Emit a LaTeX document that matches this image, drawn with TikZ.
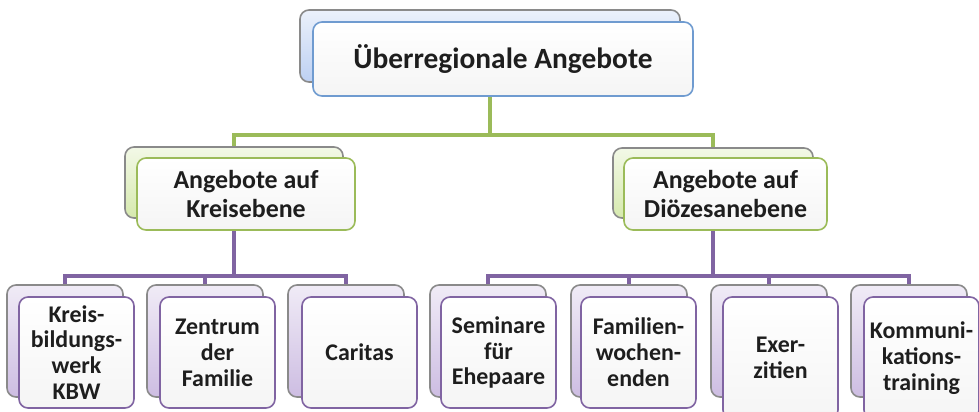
\documentclass[tikz,border=0pt]{standalone}
\usepackage{fontspec}
\setmainfont{Carlito}
\usetikzlibrary{positioning, backgrounds}
\definecolor{inkgray}{HTML}{1E1E1E}
\definecolor{rimgray}{HTML}{8A8A8A}
\definecolor{bluerim}{HTML}{6F9BD0}
\definecolor{blueback}{HTML}{BDD0F2}
\definecolor{greenrim}{HTML}{9BBB59}
\definecolor{greenback}{HTML}{D6E9AE}
\definecolor{purplerim}{HTML}{8064A2}
\definecolor{purpleback}{HTML}{CDBDE2}
\tikzset{
x=1bp, y=-1bp, % one unit per pixel, y runs downwards
box/.style={rounded corners=9bp, line width=1.6bp, inner sep=0pt, align=center, text=inkgray}, % common box look
back/.style={box, draw=rimgray}, % the box lying behind
front/.style={box, top color=white, bottom color=black!4}, % the box in front, holds the text
head/.style={font=\bfseries\fontsize{29.5}{32}\selectfont},
mid/.style={font=\bfseries\fontsize{26}{29}\selectfont},
leaf/.style={font=\bfseries\fontsize{24}{26}\selectfont, minimum width=115bp},
greenline/.style={draw=greenrim, line width=4bp},
purpleline/.style={draw=purplerim, line width=4bp},
}
\begin{document}
\begin{tikzpicture}
\useasboundingbox (0,0) rectangle (979,411);

% top level
\node[back, top color=blueback!30!white, bottom color=blueback, minimum width=380bp, minimum height=72bp] (topB) at (490,46) {};
\node[front, head, draw=bluerim, minimum width=380bp, minimum height=74bp, below right=12bp and 13bp of topB.north west] (top) {Überregionale Angebote};

% middle level
\node[back, top color=greenback!30!white, bottom color=greenback, minimum width=218bp, minimum height=71bp] (kreisB) at (234,182.5) {};
\node[front, mid, draw=greenrim, minimum width=218bp, minimum height=72bp, below right=11bp and 12bp of kreisB.north west] (kreis) {Angebote auf\\Kreisebene};
\node[back, top color=greenback!30!white, bottom color=greenback, minimum width=200bp, minimum height=70bp] (dioezB) at (713,183) {};
\node[front, mid, draw=greenrim, minimum width=203bp, minimum height=72bp, below right=10bp and 11bp of dioezB.north west] (dioez) {Angebote auf\\Diözesanebene};

% bottom level
\tikzset{leafback/.style={back, top color=purpleback!30!white, bottom color=purpleback, minimum width=116bp, minimum height=112bp}}
\tikzset{leaffront/.style={front, leaf, draw=purplerim, minimum height=111bp}}
\node[leafback] (kbwB) at (65,341) {};
\node[leaffront, below right=12bp and 12bp of kbwB.north west] (kbw) {Kreis-\\bildungs-\\werk\\KBW};
\node[leafback] (zentrumB) at (205,341) {};
\node[leaffront, below right=12bp and 13bp of zentrumB.north west] (zentrum) {Zentrum\\der\\Familie};
\node[leafback] (caritasB) at (346,341) {};
\node[leaffront, below right=12bp and 14bp of caritasB.north west] (caritas) {Caritas};
\node[leafback] (seminarB) at (488,341) {};
\node[leaffront, below right=12bp and 11bp of seminarB.north west] (seminar) {Seminare\\für\\Ehepaare};
\node[leafback] (wochenB) at (629,341) {};
\node[leaffront, below right=12bp and 10bp of wochenB.north west] (wochen) {Familien-\\wochen-\\enden};
\node[leafback] (exerB) at (769,341) {};
\node[leaffront, minimum height=122bp, below right=12bp and 12bp of exerB.north west] (exer) {Exer-\\zitien};
\node[leafback] (kommB) at (909,341) {};
\node[leaffront, minimum height=122bp, below right=12bp and 13bp of kommB.north west] (komm) {Kommuni-\\kations-\\training};

% connectors, behind the boxes
\begin{scope}[on background layer]
\draw[greenline] (topB.south) -- ++(0,52) -| (kreisB.north);
\draw[greenline] (topB.south) -- ++(0,52) -| (dioezB.north);
\foreach \leaf in {kbwB, zentrumB, caritasB}
  \draw[purpleline] (kreisB.south) -- ++(0,57) -| (\leaf.north);
\foreach \leaf in {seminarB, wochenB, exerB, kommB}
  \draw[purpleline] (dioezB.south) -- ++(0,57) -| (\leaf.north);
\end{scope}
\end{tikzpicture}
\end{document}
